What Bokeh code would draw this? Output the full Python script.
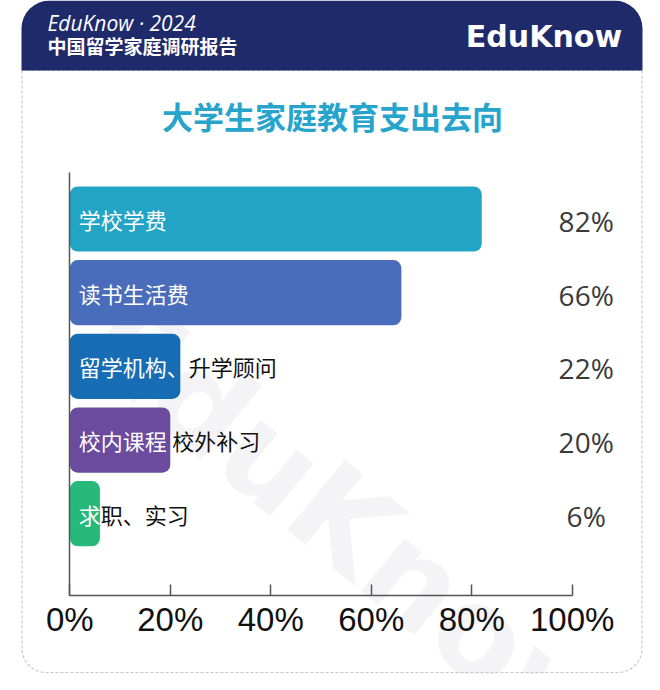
from bokeh.plotting import figure
from bokeh.models import Range1d, LinearAxis, FixedTicker, ColumnDataSource
from bokeh.core.properties import value
from bokeh.embed import file_html
from bokeh.resources import INLINE

# ---------------- data ----------------
CATEGORIES = ["学校学费", "读书生活费", "留学机构、升学顾问", "校内课程 校外补习", "求职、实习"]
VALUES = [82, 66, 22, 20, 6]
COLORS = ["#22a4c5", "#4a6dbb", "#166db4", "#6a4b9e", "#27b97a"]
TICKS = [0, 20, 40, 60, 80, 100]
TICK_LABELS = ["0%", "20%", "40%", "60%", "80%", "100%"]
TITLE = "大学生家庭教育支出去向"
HEADER_1 = "EduKnow · 2024"
HEADER_2 = "中国留学家庭调研报告"
LOGO = "EduKnow"

# ---------------- geometry ----------------
W, H = 644, 674
OFF = 0
X0_PX, X100_PX = 69.3, 571.7
K = (X100_PX - X0_PX) / 100.0
x_start = (OFF - X0_PX) / K
x_end = (OFF + W - X0_PX) / K
Y0_PX, STEP = 218.5, 73.675
y_top = (OFF - Y0_PX) / STEP
y_bot = (OFF + H - Y0_PX) / STEP
AXIS_Y = (595.3 - Y0_PX) / STEP
YAXIS_TOP = (172 - Y0_PX) / STEP

p = figure(width=W, height=H,
           x_range=Range1d(x_start, x_end), y_range=Range1d(y_bot, y_top),
           x_axis_type=None, y_axis_type=None,
           toolbar_location=None, output_backend="svg",
           min_border=0, outline_line_color=None)
p.background_fill_color = "white"
p.border_fill_color = "white"
p.extra_x_ranges = {"px": Range1d(OFF, OFF + W)}
p.extra_y_ranges = {"px": Range1d(OFF + H, OFF)}

CJK = value("Noto Sans CJK SC")

# watermark
p.text(x=[353], y=[528], text=[LOGO], angle=-0.69, x_range_name="px", y_range_name="px",
       text_font=value("DejaVu Sans"), text_font_style="bold", text_font_size="125px",
       text_color="#1f2a6a", text_alpha=0.05, text_align="center", text_baseline="middle")

# card border (dashed)
p.quad(left=[21.5], right=[641.5], top=[70], bottom=[672], x_range_name="px", y_range_name="px",
       fill_color=None, line_color="#c8c8c8", line_width=1.2, line_dash="3 2",
       border_radius=(0, 0, 24, 24))

# header band
p.quad(left=[21], right=[642], top=[0], bottom=[70], x_range_name="px", y_range_name="px",
       fill_color="#1f2a6b", line_color=None, border_radius=(28, 28, 0, 0))

p.text(x=[47], y=[22.5], text=[HEADER_1], x_range_name="px", y_range_name="px",
       text_font=value("Open Sans"), text_font_style="italic", text_font_size="21px",
       text_color="white", text_align="left", text_baseline="middle")
p.text(x=[47], y=[45], text=[HEADER_2], x_range_name="px", y_range_name="px",
       text_font=CJK, text_font_style="bold", text_font_size="19px",
       text_color="white", text_align="left", text_baseline="middle")
p.text(x=[543.5], y=[35.5], text=[LOGO], x_range_name="px", y_range_name="px",
       text_font=value("DejaVu Sans"), text_font_style="bold", text_font_size="30px",
       text_color="white", text_align="center", text_baseline="middle")

# chart title
p.text(x=[332], y=[114.5], text=[TITLE], x_range_name="px", y_range_name="px",
       text_font=CJK, text_font_style="bold", text_font_size="31px",
       text_color="#27a4cc", text_align="center", text_baseline="middle")

# bars
ys = list(range(len(CATEGORIES)))
src = ColumnDataSource(dict(y=ys, v=VALUES, color=COLORS,
                            vlab=[f"{v}%" for v in VALUES]))
p.hbar(y="y", left=0, right="v", height=0.885, fill_color="color", line_color=None,
       border_radius=8, source=src)

# labels: white inside the bar, black where they run past its end
FS = 22
PAD = 9
def advance(ch):
    return FS * 0.25 if ch == " " else FS

inner, outer, offs = [], [], []
for lab, v in zip(CATEGORIES, VALUES):
    end_px = v * K
    pos, n = PAD, 0
    for ch in lab:
        a = advance(ch)
        if pos + a / 2 <= end_px:
            pos += a
            n += 1
        else:
            break
    inner.append(lab[:n])
    outer.append(lab[n:])
    offs.append(pos)

lab_src = ColumnDataSource(dict(y=ys, inner=inner, outer=outer, off=offs))
p.text(x=0, y="y", text="inner", x_offset=PAD, source=lab_src,
       text_font=CJK, text_font_size=f"{FS}px", text_color="white",
       text_align="left", text_baseline="middle")
p.text(x=0, y="y", text="outer", x_offset="off", source=lab_src,
       text_font=CJK, text_font_size=f"{FS}px", text_color="#111111",
       text_align="left", text_baseline="middle")

# value labels
p.text(x=100, y="y", text="vlab", x_offset=14, y_offset=2, source=src,
       text_font=value("Open Sans"), text_font_size="28px", text_color="#3a3a3a",
       text_align="center", text_baseline="middle")

# axes
xaxis = LinearAxis(fixed_location=AXIS_Y, bounds=(0, 100),
                   ticker=FixedTicker(ticks=TICKS),
                   major_label_overrides={t: l for t, l in zip(TICKS, TICK_LABELS)})
xaxis.axis_line_color = "#555555"
xaxis.axis_line_width = 1.5
xaxis.major_tick_line_color = "#555555"
xaxis.major_tick_line_width = 1.5
xaxis.major_tick_in = 11
xaxis.major_tick_out = 0
xaxis.minor_tick_line_color = None
xaxis.major_label_standoff = 5
xaxis.major_label_text_font = "Liberation Sans"
xaxis.major_label_text_font_size = "33px"
xaxis.major_label_text_color = "#111111"
p.add_layout(xaxis, "below")

yaxis = LinearAxis(fixed_location=0, bounds=(YAXIS_TOP, AXIS_Y),
                   ticker=FixedTicker(ticks=[]))
yaxis.axis_line_color = "#555555"
yaxis.axis_line_width = 1.5
yaxis.major_tick_line_color = None
yaxis.minor_tick_line_color = None
yaxis.major_label_text_font_size = "0px"
p.add_layout(yaxis, "left")

open("out.html", "w").write(file_html(p, INLINE))
